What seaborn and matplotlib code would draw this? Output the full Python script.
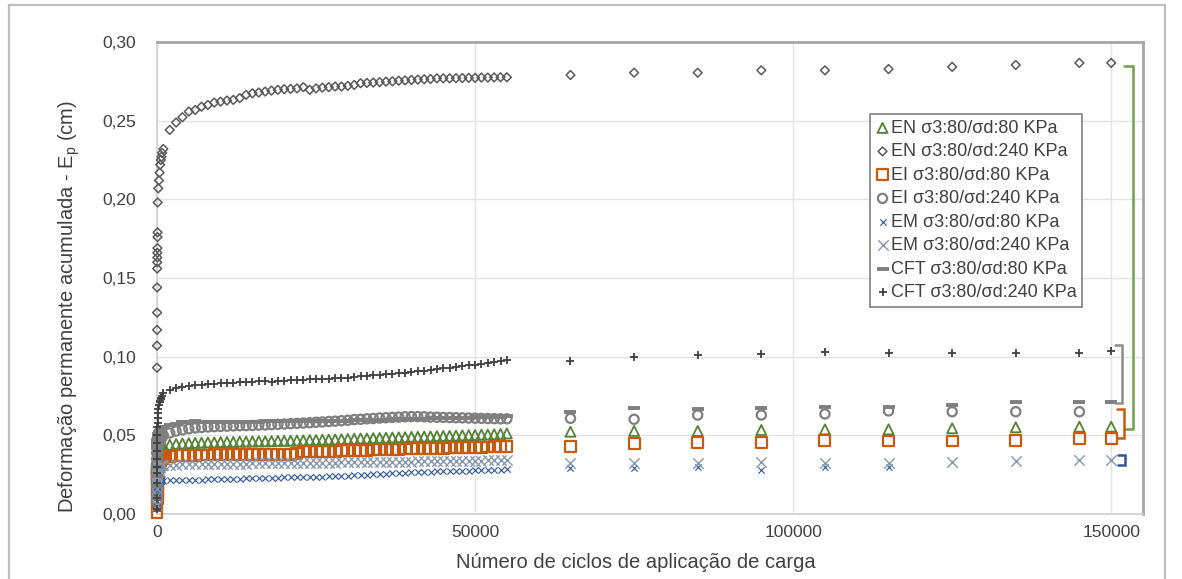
import numpy as np
import pandas as pd
import matplotlib
matplotlib.use("Agg")
import matplotlib.pyplot as plt
from matplotlib.ticker import FuncFormatter, FixedLocator
from matplotlib.patches import Rectangle
import seaborn as sns

# ---------------- data ----------------
EARLY_CYCLES = [1, 5, 10, 15, 20, 30, 40, 50, 60, 70, 80, 90, 100, 200, 300, 400, 500, 600, 700, 800]
DENSE_CYCLES = list(range(1000, 56000, 1000))
LATE_CYCLES = [65000, 75000, 85000, 95000, 105000, 115000, 125000, 135000, 145000, 150000]

SERIES = ["EN σ3:80/σd:80 KPa", "EN σ3:80/σd:240 KPa", "EI σ3:80/σd:80 KPa", "EI σ3:80/σd:240 KPa",
          "EM σ3:80/σd:80 KPa", "EM σ3:80/σd:240 KPa", "CFT σ3:80/σd:80 KPa", "CFT σ3:80/σd:240 KPa"]

en80_early = [0.005, 0.012, 0.018, 0.022, 0.025, 0.028, 0.030, 0.032, 0.033, 0.034,
              0.035, 0.036, 0.037, 0.039, 0.040, 0.041, 0.041, 0.042, 0.042, 0.043]
en80_dense = [0.0435, 0.0440, 0.0445, 0.0448, 0.0450, 0.0452, 0.0453, 0.0455, 0.0455, 0.0457, 0.0458,
              0.0458, 0.0460, 0.0460, 0.0461, 0.0462, 0.0462, 0.0463, 0.0465, 0.0465, 0.0466, 0.0467,
              0.0468, 0.0470, 0.0470, 0.0472, 0.0473, 0.0474, 0.0475, 0.0476, 0.0478, 0.0480, 0.0480,
              0.0482, 0.0483, 0.0485, 0.0486, 0.0487, 0.0488, 0.0490, 0.0491, 0.0492, 0.0493, 0.0495,
              0.0496, 0.0497, 0.0498, 0.0500, 0.0501, 0.0502, 0.0504, 0.0505, 0.0507, 0.0509, 0.0512]
en80_late = [0.0523, 0.0528, 0.0528, 0.0534, 0.0538, 0.0538, 0.0545, 0.0551, 0.0555, 0.0555]

en240_early = [0.093, 0.107, 0.117, 0.128, 0.144, 0.156, 0.160, 0.163, 0.166, 0.169,
               0.176, 0.179, 0.198, 0.207, 0.212, 0.217, 0.222, 0.225, 0.227, 0.2295]
en240_dense = [0.2320, 0.2441, 0.2488, 0.2522, 0.2558, 0.2568, 0.2589, 0.2600, 0.2615, 0.2621, 0.2628,
               0.2632, 0.2643, 0.2664, 0.2674, 0.2679, 0.2685, 0.2691, 0.2696, 0.2700, 0.2702, 0.2705,
               0.2713, 0.2696, 0.2705, 0.2710, 0.2713, 0.2717, 0.2717, 0.2721, 0.2727, 0.2738, 0.2740,
               0.2742, 0.2745, 0.2748, 0.2750, 0.2754, 0.2756, 0.2759, 0.2761, 0.2763, 0.2765, 0.2769,
               0.2769, 0.2769, 0.2770, 0.2771, 0.2772, 0.2772, 0.2774, 0.2774, 0.2775, 0.2776, 0.2776]
en240_late = [0.2790, 0.2805, 0.2805, 0.2820, 0.2820, 0.2828, 0.2842, 0.2854, 0.2867, 0.2867]

ei80_early = [0.001, 0.006, 0.010, 0.013, 0.016, 0.019, 0.021, 0.023, 0.025, 0.026,
              0.027, 0.028, 0.029, 0.031, 0.032, 0.033, 0.034, 0.034, 0.035, 0.035]
ei80_dense = [0.0365, 0.0368, 0.0370, 0.0372, 0.0373, 0.0374, 0.0375, 0.0375, 0.0376, 0.0376, 0.0377,
              0.0377, 0.0377, 0.0378, 0.0378, 0.0379, 0.0379, 0.0380, 0.0380, 0.0381, 0.0381, 0.0382,
              0.0395, 0.0396, 0.0397, 0.0398, 0.0399, 0.0400, 0.0401, 0.0402, 0.0403, 0.0404, 0.0405,
              0.0408, 0.0409, 0.0410, 0.0411, 0.0412, 0.0413, 0.0414, 0.0415, 0.0416, 0.0417, 0.0418,
              0.0419, 0.0420, 0.0421, 0.0422, 0.0423, 0.0424, 0.0425, 0.0426, 0.0427, 0.0428, 0.0430]
ei80_late = [0.0428, 0.0450, 0.0453, 0.0453, 0.0466, 0.0464, 0.0464, 0.0470, 0.0481, 0.0481]

ei240_early = [0.008, 0.012, 0.016, 0.020, 0.024, 0.028, 0.031, 0.034, 0.036, 0.038,
               0.040, 0.041, 0.042, 0.044, 0.045, 0.046, 0.047, 0.048, 0.048, 0.049]
ei240_dense = [0.0500, 0.0515, 0.0527, 0.0535, 0.0542, 0.0547, 0.0550, 0.0553, 0.0555, 0.0557, 0.0558,
               0.0560, 0.0561, 0.0562, 0.0563, 0.0565, 0.0566, 0.0568, 0.0570, 0.0572, 0.0574, 0.0576,
               0.0578, 0.0580, 0.0583, 0.0585, 0.0588, 0.0590, 0.0593, 0.0596, 0.0600, 0.0602, 0.0605,
               0.0607, 0.0610, 0.0612, 0.0614, 0.0616, 0.0618, 0.0619, 0.0619, 0.0618, 0.0616, 0.0615,
               0.0614, 0.0613, 0.0612, 0.0611, 0.0610, 0.0609, 0.0608, 0.0607, 0.0606, 0.0605, 0.0605]
ei240_late = [0.0608, 0.0602, 0.0629, 0.0629, 0.0636, 0.0655, 0.0650, 0.0650, 0.0650, np.nan]

em80_early = [0.004, 0.008, 0.011, 0.013, 0.015, 0.016, 0.017, 0.018, 0.018, 0.019,
              0.019, 0.020, 0.020, 0.020, 0.021, 0.021, 0.021, 0.021, 0.021, 0.022]
em80_dense = [0.0212, 0.0214, 0.0215, 0.0216, 0.0217, 0.0218, 0.0219, 0.0220, 0.0221, 0.0222, 0.0223,
              0.0224, 0.0225, 0.0226, 0.0227, 0.0228, 0.0229, 0.0230, 0.0231, 0.0232, 0.0233, 0.0234,
              0.0235, 0.0236, 0.0237, 0.0238, 0.0239, 0.0240, 0.0242, 0.0244, 0.0246, 0.0248, 0.0250,
              0.0252, 0.0254, 0.0256, 0.0258, 0.0260, 0.0262, 0.0264, 0.0266, 0.0268, 0.0270, 0.0271,
              0.0272, 0.0273, 0.0274, 0.0275, 0.0276, 0.0277, 0.0278, 0.0279, 0.0280, 0.0282, 0.0284]
em80_late = [0.0290, 0.0290, 0.0300, 0.0280, 0.0300, 0.0300, np.nan, np.nan, np.nan, np.nan]

em240_early = [0.006, 0.012, 0.016, 0.019, 0.021, 0.023, 0.024, 0.025, 0.026, 0.027,
               0.027, 0.028, 0.028, 0.029, 0.030, 0.030, 0.030, 0.031, 0.031, 0.031]
em240_dense = [0.0312, 0.0313, 0.0314, 0.0315, 0.0316, 0.0316, 0.0317, 0.0317, 0.0318, 0.0318, 0.0319,
               0.0319, 0.0320, 0.0320, 0.0321, 0.0321, 0.0322, 0.0322, 0.0323, 0.0323, 0.0324, 0.0324,
               0.0325, 0.0325, 0.0326, 0.0326, 0.0327, 0.0327, 0.0328, 0.0328, 0.0329, 0.0329, 0.0330,
               0.0330, 0.0331, 0.0331, 0.0332, 0.0332, 0.0333, 0.0333, 0.0334, 0.0335, 0.0336, 0.0336,
               0.0337, 0.0337, 0.0338, 0.0338, 0.0339, 0.0339, 0.0340, 0.0341, 0.0342, 0.0342, 0.0343]
em240_late = [0.0322, 0.0322, 0.0322, 0.0333, 0.0326, 0.0322, 0.0333, 0.0339, 0.0343, 0.0343]

cft80_early = [0.010, 0.018, 0.024, 0.030, 0.035, 0.039, 0.042, 0.044, 0.046, 0.047,
               0.048, 0.049, 0.050, 0.051, 0.052, 0.053, 0.053, 0.054, 0.054, 0.055]
cft80_dense = [0.0555, 0.0565, 0.0575, 0.0582, 0.0587, 0.0588, 0.0587, 0.0585, 0.0584, 0.0584, 0.0585,
               0.0585, 0.0586, 0.0586, 0.0587, 0.0587, 0.0588, 0.0588, 0.0589, 0.0589, 0.0590, 0.0590,
               0.0591, 0.0591, 0.0592, 0.0592, 0.0593, 0.0593, 0.0594, 0.0594, 0.0595, 0.0596, 0.0597,
               0.0598, 0.0599, 0.0600, 0.0601, 0.0602, 0.0603, 0.0604, 0.0605, 0.0606, 0.0607, 0.0608,
               0.0609, 0.0610, 0.0611, 0.0612, 0.0613, 0.0614, 0.0615, 0.0616, 0.0617, 0.0618, 0.0620]
cft80_late = [0.0650, 0.0672, 0.0665, 0.0672, 0.0682, 0.0682, 0.0693, 0.0714, 0.0714, 0.0714]

cft240_early = [0.003, 0.010, 0.020, 0.026, 0.030, 0.035, 0.040, 0.045, 0.050, 0.055,
                0.058, 0.061, 0.064, 0.067, 0.069, 0.071, 0.072, 0.073, 0.074, 0.075]
cft240_dense = [0.0770, 0.0790, 0.0800, 0.0808, 0.0813, 0.0818, 0.0822, 0.0825, 0.0828, 0.0830, 0.0833,
                0.0835, 0.0837, 0.0839, 0.0841, 0.0843, 0.0845, 0.0840, 0.0846, 0.0848, 0.0850, 0.0852,
                0.0854, 0.0856, 0.0857, 0.0858, 0.0860, 0.0862, 0.0864, 0.0866, 0.0870, 0.0875, 0.0880,
                0.0883, 0.0886, 0.0889, 0.0892, 0.0895, 0.0898, 0.0902, 0.0906, 0.0910, 0.0915, 0.0920,
                0.0925, 0.0930, 0.0935, 0.0940, 0.0945, 0.0950, 0.0955, 0.0960, 0.0966, 0.0972, 0.0978]
cft240_late = [0.0975, 0.0996, 0.1010, 0.1017, 0.1028, 0.1026, 0.1026, 0.1026, 0.1026, 0.1036]

SERIES_VALUES = [
    (en80_early, en80_dense, en80_late),
    (en240_early, en240_dense, en240_late),
    (ei80_early, ei80_dense, ei80_late),
    (ei240_early, ei240_dense, ei240_late),
    (em80_early, em80_dense, em80_late),
    (em240_early, em240_dense, em240_late),
    (cft80_early, cft80_dense, cft80_late),
    (cft240_early, cft240_dense, cft240_late),
]

# bracket annotations at the right end: (top, bottom, x_inner, x_outer, colour)
BRACKETS = [
    (0.2850, 0.0538, 152000, 153500, "#70a050"),
    (0.1074, 0.0708, 150600, 151700, "#8c8c8c"),
    (0.0666, 0.0481, 150900, 152000, "#c55a11"),
    (0.0375, 0.0310, 151000, 152100, "#2f5597"),
]

X_TICKS = [0, 50000, 100000, 150000]
Y_TICKS = [0.00, 0.05, 0.10, 0.15, 0.20, 0.25, 0.30]

# ---------------- style ----------------
STYLES = [
    dict(marker="^", s=52, facecolor="none", edgecolor="#548235", linewidth=1.3),
    dict(marker="D", s=20, facecolor="none", edgecolor="#595959", linewidth=1.1),
    dict(marker="s", s=62, facecolor="none", edgecolor="#c55a11", linewidth=1.6),
    dict(marker="o", s=44, facecolor="none", edgecolor="#7f7f7f", linewidth=1.6),
    dict(marker="x", s=20, color="#2f5597", linewidth=0.8),
    dict(marker="x", s=56, color="#8497b0", linewidth=1.0),
    dict(marker="_", s=64, color="#7f7f7f", linewidth=2.8),
    dict(marker="+", s=36, color="#404040", linewidth=1.3),
]

sns.set_theme(style="white")
plt.rcParams["font.family"] = ["Liberation Sans", "DejaVu Sans"]
plt.rcParams["mathtext.default"] = "regular"

fig = plt.figure(figsize=(11.82, 5.79), dpi=100)
ax = fig.add_axes([157 / 1182, 1 - 514 / 579, (1143 - 157) / 1182, (514 - 42) / 579])

rows = []
for name, (e, d, l) in zip(SERIES, SERIES_VALUES):
    for xs, ys in ((EARLY_CYCLES, e), (DENSE_CYCLES, d), (LATE_CYCLES, l)):
        for xv, yv in zip(xs, ys):
            rows.append((name, xv, yv))
df = pd.DataFrame(rows, columns=["serie", "ciclos", "ep"]).dropna()

for name, st in zip(SERIES, STYLES):
    sub = df[df["serie"] == name]
    sns.scatterplot(data=sub, x="ciclos", y="ep", ax=ax, label=name, zorder=3, clip_on=False, **st)

for top, bot, xi, xo, col in BRACKETS:
    ax.plot([xi, xo, xo, xi], [top, top, bot, bot], color=col, lw=1.8, clip_on=False, zorder=4,
            solid_joinstyle="miter")

ax.set_xlim(0, 155000)
ax.set_ylim(0, 0.30)
ax.xaxis.set_major_locator(FixedLocator(X_TICKS))
ax.yaxis.set_major_locator(FixedLocator(Y_TICKS))
ax.yaxis.set_major_formatter(FuncFormatter(lambda v, p: f"{v:.2f}".replace(".", ",")))
ax.xaxis.set_major_formatter(FuncFormatter(lambda v, p: f"{int(v)}"))
ax.grid(True, color="#e3e3e3", linewidth=1.0)
ax.tick_params(axis="both", length=0, labelsize=12.5, colors="#404040")
ax.tick_params(axis="y", pad=15)
ax.tick_params(axis="x", pad=8)
for side in ["top", "right"]:
    ax.spines[side].set_color("#a6a6a6")
    ax.spines[side].set_linewidth(2.0)
for side in ["left", "bottom"]:
    ax.spines[side].set_color("#d0d0d0")
    ax.spines[side].set_linewidth(1.2)

ax.set_xlabel("Número de ciclos de aplicação de carga", fontsize=14.5, color="#404040")
ax.set_ylabel("Deformação permanente acumulada - E$_{p}$ (cm)", fontsize=14.5, color="#404040")
ax.xaxis.set_label_coords(0.486, -0.083)
ax.yaxis.set_label_coords(-0.076, 0.44)

leg = ax.legend(loc="upper left", bbox_to_anchor=(0.723, 0.847), fontsize=13, frameon=True,
                fancybox=False, framealpha=1, edgecolor="#7f7f7f", handletextpad=0.05,
                handlelength=0.8, labelspacing=0.36, borderpad=0.3, borderaxespad=0)
leg.get_frame().set_linewidth(1.2)
for t in leg.get_texts():
    t.set_color("#404040")

fig.patches.append(Rectangle((9 / 1182, -0.05), (1165 - 9) / 1182, 1.05 - 5 / 579,
                             transform=fig.transFigure, fill=False, edgecolor="#bfbfbf", lw=1.6))

fig.savefig("out.png", dpi=100)
